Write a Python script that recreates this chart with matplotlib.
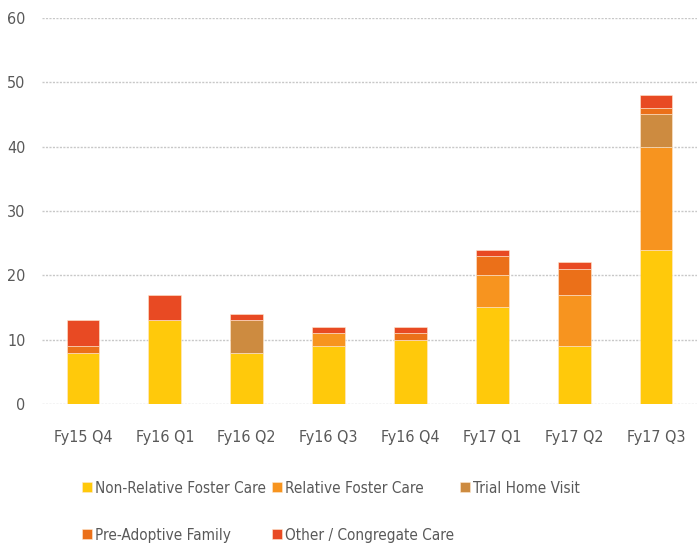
import numpy as np
import matplotlib.pyplot as plt

quarters = ['Fy15 Q4', 'Fy16 Q1', 'Fy16 Q2', 'Fy16 Q3', 'Fy16 Q4', 'Fy17 Q1', 'Fy17 Q2', 'Fy17 Q3']
non_relative = [8, 13, 8, 9, 10, 15, 9, 24]
relative = [0, 0, 0, 2, 0, 5, 8, 16]
trial_home = [0, 0, 5, 0, 0, 0, 0, 5]
pre_adoptive = [1, 0, 0, 0, 1, 3, 4, 1]
other_congregate = [4, 4, 1, 1, 1, 1, 1, 2]

series = [
    ('Non-Relative Foster Care', non_relative, '#FFC90B'),
    ('Relative Foster Care', relative, '#F7941F'),
    ('Trial Home Visit', trial_home, '#CD8B40'),
    ('Pre-Adoptive Family', pre_adoptive, '#EB7019'),
    ('Other / Congregate Care', other_congregate, '#E84A23'),
]

plt.rcParams['font.family'] = ['DejaVu Sans']
plt.rcParams['font.stretch'] = 'condensed'

fig = plt.figure(figsize=(6.97, 5.48), dpi=100)
ax = fig.add_axes([0.0603, 0.2628, 0.9397, 0.7044])

x = np.arange(len(quarters))
bottom = np.zeros(len(quarters))
handles = []
for label, vals, col in series:
    vals = np.array(vals, dtype=float)
    b = ax.bar(x, vals, width=0.4, bottom=bottom, color=col, label=label,
               edgecolor='#FFE9D0', linewidth=0.4)
    handles.append(b)
    bottom += vals

ax.set_xlim(-0.5, 7.5)
ax.set_ylim(0, 60)
ax.set_yticks(range(0, 61, 10))
ax.set_xticks(x)
ax.set_xticklabels(quarters)
ax.yaxis.grid(True, color='#C8C8C8', linestyle=(0, (1.5, 1)), linewidth=1)
ax.set_axisbelow(True)
for s in ax.spines.values():
    s.set_visible(False)
ax.tick_params(length=0, labelsize=11.5, colors='#595959')
ax.tick_params(axis='y', pad=12)
ax.tick_params(axis='x', pad=19)

# legend fills column by column, so reorder to read row by row
order = [0, 3, 1, 4, 2]
leg = fig.legend(handles=[handles[i] for i in order], loc='upper left',
                 bbox_to_anchor=(0.098, 0.148),
                 ncol=3, frameon=False, fontsize=11, handlelength=0.65, handleheight=0.65,
                 handletextpad=0.2, columnspacing=0.4, labelspacing=2.1,
                 labelcolor='#595959')

fig.savefig('out.png', dpi=100)
